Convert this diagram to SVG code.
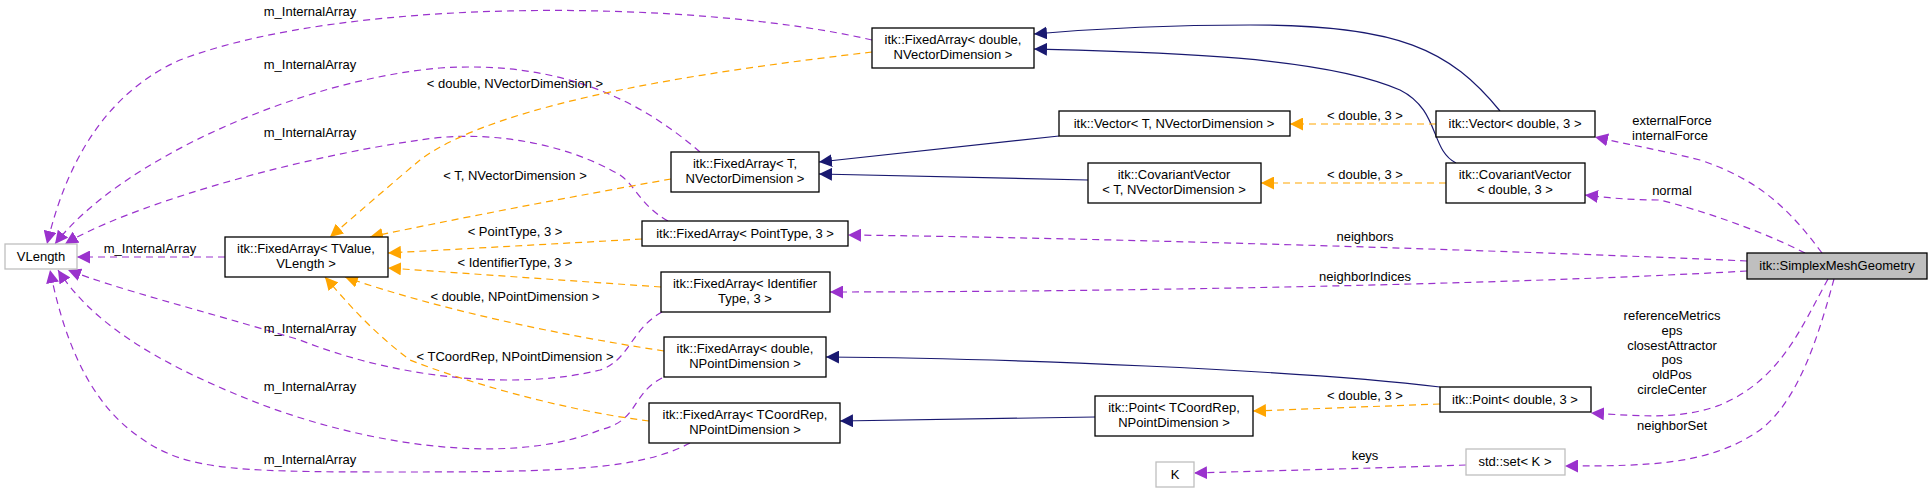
<svg xmlns="http://www.w3.org/2000/svg" width="1931" height="493" viewBox="0 0 1931 493">
<style>
text{font-family:"Liberation Sans Narrow","Liberation Sans",Arial,sans-serif;font-size:13px;fill:#000;text-anchor:middle}
.n rect{fill:#fff;stroke:#000;stroke-width:1.3}
.g rect{stroke:#bfbfbf}
.p{fill:none;stroke:#9a32cd;stroke-width:1.2;stroke-dasharray:7,5;marker-end:url(#ap)}
.o{fill:none;stroke:#ffa500;stroke-width:1.2;stroke-dasharray:7,5;marker-end:url(#ao)}
.b{fill:none;stroke:#191970;stroke-width:1.2;marker-end:url(#ab)}
</style>
<defs>
<marker id="ap" viewBox="0 0 10 10" refX="10" refY="5" markerWidth="13" markerHeight="13" markerUnits="userSpaceOnUse" orient="auto"><path d="M0,0L10,5L0,10z" fill="#9a32cd"/></marker>
<marker id="ao" viewBox="0 0 10 10" refX="10" refY="5" markerWidth="13" markerHeight="13" markerUnits="userSpaceOnUse" orient="auto"><path d="M0,0L10,5L0,10z" fill="#ffa500"/></marker>
<marker id="ab" viewBox="0 0 10 10" refX="10" refY="5" markerWidth="13" markerHeight="13" markerUnits="userSpaceOnUse" orient="auto"><path d="M0,0L10,5L0,10z" fill="#191970"/></marker>
</defs>
<g id="edges">
<path class="p" d="M872,40 C700,0 350,-5 180,60 C90,100 60,190 47,244"/>
<path class="p" d="M700,152 C640,100 560,60 440,68 C300,80 120,160 55,244"/>
<path class="p" d="M668,221 C640,205 635,185 620,175 C560,140 480,130 420,140 C280,160 120,210 65,244"/>
<path class="p" d="M225,257 L77,257"/>
<path class="p" d="M662,312 C630,330 630,360 600,370 C520,390 400,380 300,340 C200,310 120,290 68,270"/>
<path class="p" d="M662,378 C630,395 640,420 600,430 C500,470 350,440 250,400 C150,360 90,320 58,270"/>
<path class="p" d="M690,443 C640,470 560,472 400,472 C220,472 180,470 130,430 C80,390 60,320 50,270"/>
<path class="o" d="M872,52 C720,70 500,100 420,160 C390,185 350,220 330,237"/>
<path class="o" d="M671,179 C580,195 450,220 370,237"/>
<path class="o" d="M642,239 L388,253"/>
<path class="o" d="M661,287 L388,268"/>
<path class="o" d="M664,351 C560,335 440,310 345,277"/>
<path class="o" d="M649,421 C560,410 460,380 410,360 C370,330 345,300 325,277"/>
<path class="b" d="M1500,111 C1450,50 1400,25 1250,25 C1150,25 1080,30 1034,34"/>
<path class="b" d="M1456,163 C1430,150 1440,110 1400,90 C1320,55 1150,52 1034,49"/>
<path class="b" d="M1059,136 L819,162"/>
<path class="b" d="M1088,180 L819,174"/>
<path class="b" d="M1440,387 C1300,370 1000,358 826,357"/>
<path class="b" d="M1095,417 L840,421"/>
<path class="o" d="M1436,124 L1290,124"/>
<path class="o" d="M1446,183 L1261,183"/>
<path class="o" d="M1440,404 L1253,411"/>
<path class="p" d="M1822,253 C1790,210 1760,180 1700,160 C1660,150 1630,145 1595,137"/>
<path class="p" d="M1805,253 C1760,230 1700,210 1660,200 C1630,200 1610,198 1585,195"/>
<path class="p" d="M1747,261 C1500,250 1100,238 848,235"/>
<path class="p" d="M1747,271 C1500,285 1100,292 830,292"/>
<path class="p" d="M1828,279 C1800,330 1780,380 1720,405 C1680,420 1640,416 1591,413"/>
<path class="p" d="M1834,279 C1820,330 1800,400 1760,430 C1710,465 1650,466 1565,466"/>
<path class="p" d="M1466,465 C1380,468 1300,470 1194,473"/>
</g>
<g id="edge-labels">
<text x="310" y="16">m_InternalArray</text>
<text x="310" y="69">m_InternalArray</text>
<text x="310" y="137">m_InternalArray</text>
<text x="150" y="253">m_InternalArray</text>
<text x="310" y="333">m_InternalArray</text>
<text x="310" y="391">m_InternalArray</text>
<text x="310" y="464">m_InternalArray</text>
<text x="515" y="88">&lt; double, NVectorDimension &gt;</text>
<text x="515" y="180">&lt; T, NVectorDimension &gt;</text>
<text x="515" y="236">&lt; PointType, 3 &gt;</text>
<text x="515" y="267">&lt; IdentifierType, 3 &gt;</text>
<text x="515" y="301">&lt; double, NPointDimension &gt;</text>
<text x="515" y="361">&lt; TCoordRep, NPointDimension &gt;</text>
<text x="1365" y="120">&lt; double, 3 &gt;</text>
<text x="1365" y="179">&lt; double, 3 &gt;</text>
<text x="1365" y="400">&lt; double, 3 &gt;</text>
<text x="1672" y="125">externalForce</text>
<text x="1670" y="140">internalForce</text>
<text x="1672" y="195">normal</text>
<text x="1365" y="241">neighbors</text>
<text x="1365" y="281">neighborIndices</text>
<text x="1672" y="320">referenceMetrics</text>
<text x="1672" y="335">eps</text>
<text x="1672" y="350">closestAttractor</text>
<text x="1672" y="364">pos</text>
<text x="1672" y="379">oldPos</text>
<text x="1672" y="394">circleCenter</text>
<text x="1672" y="430">neighborSet</text>
<text x="1365" y="460">keys</text>
</g>
<g id="VLength" class="n g"><rect x="5" y="244" width="72" height="25"/><text x="41" y="261">VLength</text></g>
<g id="FA_TValue" class="n"><rect x="225" y="237" width="163" height="40"/><text x="306" y="253">itk::FixedArray&lt; TValue,</text><text x="306" y="268">VLength &gt;</text></g>
<g id="FA_double_NVD" class="n"><rect x="872" y="28" width="162" height="40"/><text x="953" y="44">itk::FixedArray&lt; double,</text><text x="953" y="59">NVectorDimension &gt;</text></g>
<g id="FA_T_NVD" class="n"><rect x="671" y="152" width="148" height="40"/><text x="745" y="168">itk::FixedArray&lt; T,</text><text x="745" y="183">NVectorDimension &gt;</text></g>
<g id="FA_PointType" class="n"><rect x="642" y="221" width="206" height="25"/><text x="745" y="238">itk::FixedArray&lt; PointType, 3 &gt;</text></g>
<g id="FA_Identifier" class="n"><rect x="661" y="272" width="169" height="40"/><text x="745" y="288">itk::FixedArray&lt; Identifier</text><text x="745" y="303">Type, 3 &gt;</text></g>
<g id="FA_double_NPD" class="n"><rect x="664" y="337" width="162" height="40"/><text x="745" y="353">itk::FixedArray&lt; double,</text><text x="745" y="368">NPointDimension &gt;</text></g>
<g id="FA_TCoordRep" class="n"><rect x="649" y="403" width="191" height="40"/><text x="745" y="419">itk::FixedArray&lt; TCoordRep,</text><text x="745" y="434">NPointDimension &gt;</text></g>
<g id="Vector_T" class="n"><rect x="1059" y="111" width="231" height="25"/><text x="1174" y="128">itk::Vector&lt; T, NVectorDimension &gt;</text></g>
<g id="CovVec_T" class="n"><rect x="1088" y="163" width="173" height="40"/><text x="1174" y="179">itk::CovariantVector</text><text x="1174" y="194">&lt; T, NVectorDimension &gt;</text></g>
<g id="Point_TCoordRep" class="n"><rect x="1095" y="396" width="158" height="40"/><text x="1174" y="412">itk::Point&lt; TCoordRep,</text><text x="1174" y="427">NPointDimension &gt;</text></g>
<g id="K" class="n g"><rect x="1156" y="462" width="38" height="25"/><text x="1175" y="479">K</text></g>
<g id="Vector_double" class="n"><rect x="1436" y="111" width="159" height="26"/><text x="1515" y="128">itk::Vector&lt; double, 3 &gt;</text></g>
<g id="CovVec_double" class="n"><rect x="1446" y="163" width="139" height="40"/><text x="1515" y="179">itk::CovariantVector</text><text x="1515" y="194">&lt; double, 3 &gt;</text></g>
<g id="SimplexMeshGeometry" class="n"><rect x="1747" y="253" width="180" height="26" style="fill:#bfbfbf"/><text x="1837" y="270">itk::SimplexMeshGeometry</text></g>
<g id="Point_double" class="n"><rect x="1440" y="387" width="151" height="25"/><text x="1515" y="404">itk::Point&lt; double, 3 &gt;</text></g>
<g id="std_set" class="n g"><rect x="1466" y="449" width="99" height="26"/><text x="1515" y="466">std::set&lt; K &gt;</text></g>
</svg>
